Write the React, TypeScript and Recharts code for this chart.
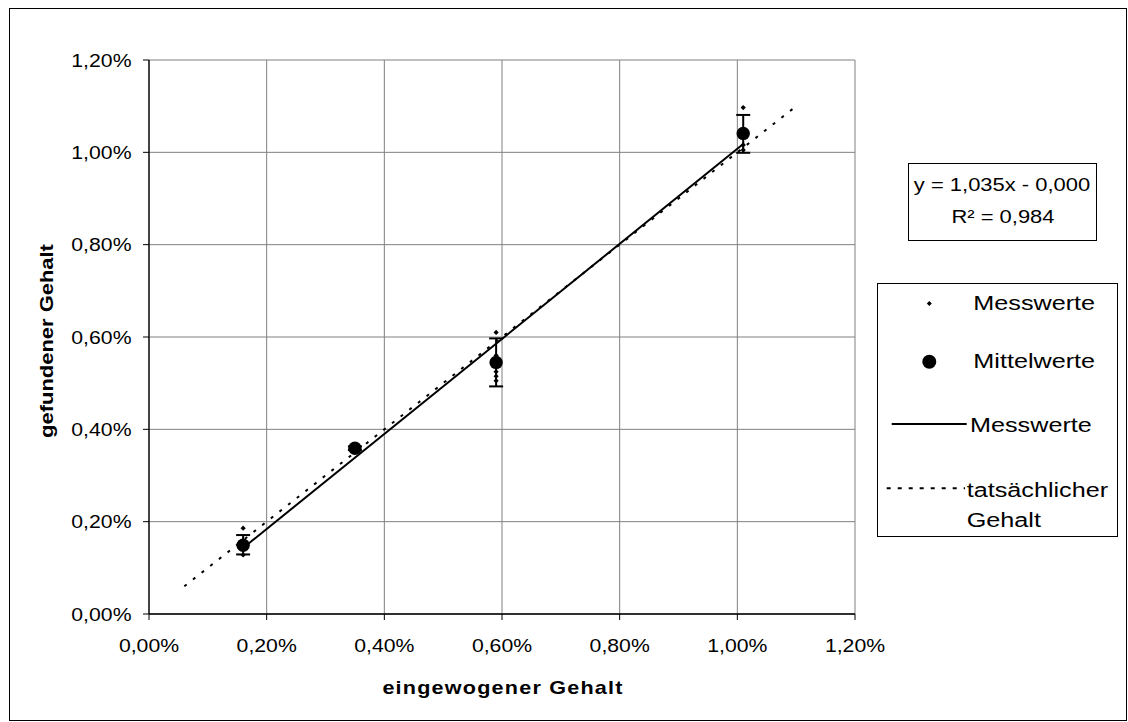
import React from 'react';
import { ScatterChart, Scatter, XAxis, YAxis, CartesianGrid, ErrorBar, ReferenceLine, Label } from 'recharts';

// ---- data (values in percent) ----
const concentrations = [0.16, 0.35, 0.59, 1.01];
const measuredValues = [
  [0.186, 0.160, 0.145, 0.128],
  [0.365, 0.358, 0.354],
  [0.610, 0.560, 0.525, 0.515, 0.505],
  [1.097, 1.045, 1.016, 1.005],
];
const meanValues = [0.149, 0.359, 0.545, 1.041];
const errLow = [0.020, 0.004, 0.052, 0.042];
const errHigh = [0.022, 0.004, 0.052, 0.040];
const trendStart = { x: 0.16, y: 0.143 };
const trendEnd = { x: 1.01, y: 1.018 };
const trueStart = { x: 0.06, y: 0.06 };
const trueEnd = { x: 1.10, y: 1.10 };
const axisTicks = [0, 0.2, 0.4, 0.6, 0.8, 1.0, 1.2];
const equationText = 'y = 1,035x - 0,000';
const r2Text = 'R² = 0,984';
const legendLabels = ['Messwerte', 'Mittelwerte', 'Messwerte', 'tatsächlicher', 'Gehalt'];
const xTitle = 'eingewogener Gehalt';
const yTitle = 'gefundener Gehalt';

const measuredData = concentrations.flatMap((c, i) => measuredValues[i].map((v) => ({ x: c, y: v })));
const meanData = concentrations.map((c, i) => ({ x: c, y: meanValues[i], err: [errLow[i], errHigh[i]] }));

const FONT = '"Liberation Sans", Arial, Helvetica, sans-serif';
const fmt = (v: number) => v.toFixed(2).replace('.', ',') + '%';

const ST = ({ x, y, children, size, anchor = 'start', bold = false, sx = 1.2, rotate = 0, ls = 0 }: any) => (
  <text
    transform={`translate(${x},${y})${rotate ? ` rotate(${rotate})` : ''} scale(${sx},1)`}
    x={0}
    y={0}
    textAnchor={anchor}
    fontSize={size}
    fontWeight={bold ? 'bold' : 'normal'}
    fontFamily={FONT}
    fill="#000"
    letterSpacing={ls}
  >
    {children}
  </text>
);

const YTick = (p: any) => (
  <ST x={131.5} y={p.y + 6.5} anchor="end" size={18} sx={1.18}>
    {fmt(p.payload.value)}
  </ST>
);
const XTick = (p: any) => (
  <ST x={p.x} y={652} anchor="middle" size={18} sx={1.18}>
    {fmt(p.payload.value)}
  </ST>
);

const Diamond = (p: any) => {
  const s = 2.6;
  return <path d={`M${p.cx},${p.cy - s}L${p.cx + s},${p.cy}L${p.cx},${p.cy + s}L${p.cx - s},${p.cy}Z`} fill="#000" />;
};
const Dot = (p: any) => <circle cx={p.cx} cy={p.cy} r={6.7} fill="#000" />;

const LegendBox = () => (
  <svg width={250} height={392} style={{ overflow: 'visible', display: 'block' }}>
    {/* equation box (offset 877,150) */}
    <rect x={31.5} y={13.5} width={188} height={77} fill="#fff" stroke="#000" strokeWidth={1} />
    <ST x={125} y={40.5} anchor="middle" size={18} sx={1.22}>{equationText}</ST>
    <ST x={126} y={72.5} anchor="middle" size={18} sx={1.22}>{r2Text}</ST>
    {/* legend */}
    <rect x={0.5} y={133.5} width={240} height={253} fill="#fff" stroke="#000" strokeWidth={1} />
    <path d={`M52.3,151L54.8,153.5L52.3,156L49.8,153.5Z`} fill="#000" />
    <ST x={96.3} y={160} size={21} sx={1.2}>{legendLabels[0]}</ST>
    <circle cx={52.3} cy={211.7} r={7} fill="#000" />
    <ST x={96.3} y={218} size={21} sx={1.2}>{legendLabels[1]}</ST>
    <line x1={14.7} y1={274} x2={89.7} y2={274} stroke="#000" strokeWidth={2} />
    <ST x={93} y={281.5} size={21} sx={1.2}>{legendLabels[2]}</ST>
    <line x1={9.7} y1={338.3} x2={88} y2={338.3} stroke="#000" strokeWidth={2} strokeDasharray="4 7" />
    <ST x={89.7} y={346.5} size={21} sx={1.2}>{legendLabels[3]}</ST>
    <ST x={89.7} y={376.5} size={21} sx={1.2}>{legendLabels[4]}</ST>
  </svg>
);

export default function App() {
  return (
    <div style={{ position: 'absolute', left: 0, top: 0, width: 1128, height: 722, background: '#fff' }}>
      <div
        style={{
          position: 'absolute',
          left: 9,
          top: 8,
          width: 1118,
          height: 713,
          border: '1px solid #000',
          boxSizing: 'border-box',
        }}
      />
      <div style={{ position: 'absolute', left: 0, top: 0 }}>
        <ScatterChart width={1128} height={722} margin={{ top: 60, right: 273, bottom: 0, left: 0 }}>
          <CartesianGrid stroke="#808080" strokeWidth={1} />
          <XAxis
            type="number"
            dataKey="x"
            domain={[0, 1.2]}
            ticks={axisTicks}
            interval={0}
            height={108}
            tickSize={6}
            axisLine={{ stroke: '#000', strokeWidth: 1.3 }}
            tickLine={{ stroke: '#000' }}
            tick={<XTick />}
          >
            <Label content={() => <ST x={503} y={694} anchor="middle" size={18} bold sx={1.2} ls={1}>{xTitle}</ST>} />
          </XAxis>
          <YAxis
            type="number"
            dataKey="y"
            domain={[0, 1.2]}
            ticks={axisTicks}
            interval={0}
            width={149}
            tickSize={6}
            axisLine={{ stroke: '#000', strokeWidth: 1.3 }}
            tickLine={{ stroke: '#000' }}
            tick={<YTick />}
          >
            <Label content={() => <ST x={53} y={341} anchor="middle" size={18} bold sx={1.22} rotate={-90}>{yTitle}</ST>} />
          </YAxis>
          <ReferenceLine
            segment={[trueStart, trueEnd]}
            stroke="#000"
            strokeWidth={2}
            strokeDasharray="3 8"
            ifOverflow="visible"
          />
          <ReferenceLine segment={[trendStart, trendEnd]} stroke="#000" strokeWidth={2} ifOverflow="visible" />
          <Scatter name="Messwerte" data={measuredData} shape={<Diamond />} isAnimationActive={false} />
          <Scatter name="Mittelwerte" data={meanData} shape={<Dot />} isAnimationActive={false}>
            <ErrorBar dataKey="err" direction="y" width={7} stroke="#000" strokeWidth={2} isAnimationActive={false} />
          </Scatter>
        </ScatterChart>
      </div>
      <div style={{ position: 'absolute', left: 877, top: 150 }}>
        <LegendBox />
      </div>
    </div>
  );
}
